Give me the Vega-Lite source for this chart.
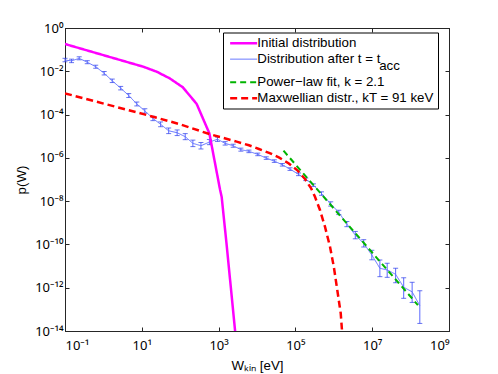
{
  "$schema": "https://vega.github.io/schema/vega-lite/v6.json",
  "autosize": {"type": "none"},
  "padding": {"left": 65, "top": 28, "right": 49, "bottom": 43},
  "width": 384,
  "height": 303,
  "config": {
    "font": "Liberation Sans",
    "view": {"stroke": "#262626", "strokeWidth": 1},
    "axis": {"grid": false, "domainColor": "#262626", "tickColor": "#262626", "labelColor": "#000000", "titleColor": "#000000", "labelFontSize": 13, "titleFontSize": 13.3, "titleFontWeight": "normal", "tickSize": -4, "labelFont": "Noto Sans", "titleFont": "Liberation Sans"},
    "style": {"guide-label": {"lineHeight": 7}}
  },
  "datasets": {
    "curves": [
      {"s": "Distribution after t = tacc", "W": 0.1, "p": 3.31e-2},
      {"s": "Distribution after t = tacc", "W": 0.148, "p": 3.02e-2},
      {"s": "Distribution after t = tacc", "W": 0.234, "p": 3.98e-2},
      {"s": "Distribution after t = tacc", "W": 0.380, "p": 2.63e-2},
      {"s": "Distribution after t = tacc", "W": 0.631, "p": 1.62e-2},
      {"s": "Distribution after t = tacc", "W": 1.047, "p": 8.13e-3},
      {"s": "Distribution after t = tacc", "W": 1.70, "p": 3.63e-3},
      {"s": "Distribution after t = tacc", "W": 2.82, "p": 1.66e-3},
      {"s": "Distribution after t = tacc", "W": 4.57, "p": 7.59e-4},
      {"s": "Distribution after t = tacc", "W": 7.41, "p": 3.09e-4},
      {"s": "Distribution after t = tacc", "W": 12.0, "p": 1.48e-4},
      {"s": "Distribution after t = tacc", "W": 19.5, "p": 6.61e-5},
      {"s": "Distribution after t = tacc", "W": 30.9, "p": 3.55e-5},
      {"s": "Distribution after t = tacc", "W": 50.1, "p": 1.78e-5},
      {"s": "Distribution after t = tacc", "W": 83.2, "p": 1.45e-5},
      {"s": "Distribution after t = tacc", "W": 135, "p": 9.55e-6},
      {"s": "Distribution after t = tacc", "W": 214, "p": 4.68e-6},
      {"s": "Distribution after t = tacc", "W": 347, "p": 3.63e-6},
      {"s": "Distribution after t = tacc", "W": 575, "p": 5.37e-6},
      {"s": "Distribution after t = tacc", "W": 933, "p": 7.24e-6},
      {"s": "Distribution after t = tacc", "W": 1479, "p": 4.68e-6},
      {"s": "Distribution after t = tacc", "W": 2399, "p": 3.63e-6},
      {"s": "Distribution after t = tacc", "W": 3802, "p": 2.40e-6},
      {"s": "Distribution after t = tacc", "W": 6166, "p": 2.00e-6},
      {"s": "Distribution after t = tacc", "W": 10471, "p": 1.45e-6},
      {"s": "Distribution after t = tacc", "W": 17378, "p": 9.77e-7},
      {"s": "Distribution after t = tacc", "W": 28184, "p": 7.08e-7},
      {"s": "Distribution after t = tacc", "W": 45709, "p": 4.79e-7},
      {"s": "Distribution after t = tacc", "W": 72444, "p": 3.02e-7},
      {"s": "Distribution after t = tacc", "W": 120226, "p": 1.74e-7},
      {"s": "Distribution after t = tacc", "W": 186209, "p": 1.02e-7},
      {"s": "Distribution after t = tacc", "W": 295121, "p": 5.50e-8},
      {"s": "Distribution after t = tacc", "W": 478630, "p": 2.24e-8},
      {"s": "Distribution after t = tacc", "W": 831764, "p": 7.41e-9},
      {"s": "Distribution after t = tacc", "W": 1.349e6, "p": 3.02e-9},
      {"s": "Distribution after t = tacc", "W": 2.188e6, "p": 8.71e-10},
      {"s": "Distribution after t = tacc", "W": 3.631e6, "p": 2.69e-10},
      {"s": "Distribution after t = tacc", "W": 6.026e6, "p": 1.12e-10},
      {"s": "Distribution after t = tacc", "W": 9.772e6, "p": 3.24e-11},
      {"s": "Distribution after t = tacc", "W": 1.585e7, "p": 7.94e-12},
      {"s": "Distribution after t = tacc", "W": 2.455e7, "p": 6.61e-12},
      {"s": "Distribution after t = tacc", "W": 4.074e7, "p": 4.17e-12},
      {"s": "Distribution after t = tacc", "W": 6.607e7, "p": 1.05e-12},
      {"s": "Distribution after t = tacc", "W": 1.096e8, "p": 6.46e-13},
      {"s": "Distribution after t = tacc", "W": 1.738e8, "p": 1.48e-13},
      {"s": "Initial distribution", "W": 0.1, "p": 0.182},
      {"s": "Initial distribution", "W": 11.0, "p": 1.62e-2},
      {"s": "Initial distribution", "W": 24.5, "p": 9.55e-3},
      {"s": "Initial distribution", "W": 53.7, "p": 4.68e-3},
      {"s": "Initial distribution", "W": 117, "p": 1.82e-3},
      {"s": "Initial distribution", "W": 269, "p": 3.09e-4},
      {"s": "Initial distribution", "W": 575, "p": 1.35e-5},
      {"s": "Initial distribution", "W": 1096, "p": 3.24e-8},
      {"s": "Initial distribution", "W": 1202, "p": 1.58e-8},
      {"s": "Initial distribution", "W": 1622, "p": 9.33e-11},
      {"s": "Initial distribution", "W": 2692, "p": 1e-14},
      {"s": "Initial distribution", "W": 3162, "p": 6.3e-16},
      {"s": "Maxwellian distr., kT = 91 keV", "W": 0.1, "p": 9.55e-4},
      {"s": "Maxwellian distr., kT = 91 keV", "W": 11.7, "p": 1.02e-4},
      {"s": "Maxwellian distr., kT = 91 keV", "W": 100, "p": 3.55e-5},
      {"s": "Maxwellian distr., kT = 91 keV", "W": 575, "p": 1.26e-5},
      {"s": "Maxwellian distr., kT = 91 keV", "W": 2951, "p": 5.62e-6},
      {"s": "Maxwellian distr., kT = 91 keV", "W": 6166, "p": 3.80e-6},
      {"s": "Maxwellian distr., kT = 91 keV", "W": 11220, "p": 2.57e-6},
      {"s": "Maxwellian distr., kT = 91 keV", "W": 21380, "p": 1.66e-6},
      {"s": "Maxwellian distr., kT = 91 keV", "W": 38019, "p": 1.02e-6},
      {"s": "Maxwellian distr., kT = 91 keV", "W": 66069, "p": 5.62e-7},
      {"s": "Maxwellian distr., kT = 91 keV", "W": 114815, "p": 2.57e-7},
      {"s": "Maxwellian distr., kT = 91 keV", "W": 177828, "p": 1.05e-7},
      {"s": "Maxwellian distr., kT = 91 keV", "W": 257040, "p": 3.89e-8},
      {"s": "Maxwellian distr., kT = 91 keV", "W": 323594, "p": 1.58e-8},
      {"s": "Maxwellian distr., kT = 91 keV", "W": 436516, "p": 3.89e-9},
      {"s": "Maxwellian distr., kT = 91 keV", "W": 588844, "p": 6.61e-10},
      {"s": "Maxwellian distr., kT = 91 keV", "W": 794328, "p": 7.94e-11},
      {"s": "Maxwellian distr., kT = 91 keV", "W": 1000000, "p": 9.33e-12},
      {"s": "Maxwellian distr., kT = 91 keV", "W": 1.230e6, "p": 7.94e-13},
      {"s": "Maxwellian distr., kT = 91 keV", "W": 1.514e6, "p": 6.61e-14},
      {"s": "Maxwellian distr., kT = 91 keV", "W": 1.738e6, "p": 2.51e-15},
      {"s": "Power\u2212law fit, k = 2.1", "W": 48978, "p": 2.14e-6},
      {"s": "Power\u2212law fit, k = 2.1", "W": 1.549e8, "p": 1.58e-13}
    ],
    "err": [
      {"W": 0.1, "lo": 2.75e-2, "hi": 3.98e-2},
      {"W": 0.148, "lo": 2.51e-2, "hi": 3.63e-2},
      {"W": 0.234, "lo": 3.39e-2, "hi": 4.68e-2},
      {"W": 0.380, "lo": 2.24e-2, "hi": 3.09e-2},
      {"W": 0.631, "lo": 1.38e-2, "hi": 1.91e-2},
      {"W": 1.047, "lo": 6.76e-3, "hi": 9.77e-3},
      {"W": 1.70, "lo": 3.02e-3, "hi": 4.37e-3},
      {"W": 2.82, "lo": 1.38e-3, "hi": 2.00e-3},
      {"W": 4.57, "lo": 6.17e-4, "hi": 9.33e-4},
      {"W": 7.41, "lo": 2.51e-4, "hi": 3.80e-4},
      {"W": 12.0, "lo": 1.17e-4, "hi": 1.86e-4},
      {"W": 19.5, "lo": 5.25e-5, "hi": 8.32e-5},
      {"W": 30.9, "lo": 2.75e-5, "hi": 4.57e-5},
      {"W": 50.1, "lo": 1.32e-5, "hi": 2.40e-5},
      {"W": 83.2, "lo": 1.07e-5, "hi": 1.95e-5},
      {"W": 135, "lo": 6.92e-6, "hi": 1.32e-5},
      {"W": 214, "lo": 3.31e-6, "hi": 6.61e-6},
      {"W": 347, "lo": 2.57e-6, "hi": 5.13e-6},
      {"W": 575, "lo": 4.07e-6, "hi": 7.08e-6},
      {"W": 933, "lo": 5.75e-6, "hi": 9.12e-6},
      {"W": 1479, "lo": 3.89e-6, "hi": 5.62e-6},
      {"W": 2399, "lo": 3.09e-6, "hi": 4.27e-6},
      {"W": 3802, "lo": 2.04e-6, "hi": 2.82e-6},
      {"W": 6166, "lo": 1.74e-6, "hi": 2.29e-6},
      {"W": 10471, "lo": 1.26e-6, "hi": 1.66e-6},
      {"W": 17378, "lo": 8.51e-7, "hi": 1.12e-6},
      {"W": 28184, "lo": 6.17e-7, "hi": 8.13e-7},
      {"W": 45709, "lo": 4.17e-7, "hi": 5.50e-7},
      {"W": 72444, "lo": 2.63e-7, "hi": 3.47e-7},
      {"W": 120226, "lo": 1.51e-7, "hi": 2.00e-7},
      {"W": 186209, "lo": 8.91e-8, "hi": 1.17e-7},
      {"W": 295121, "lo": 4.79e-8, "hi": 6.31e-8},
      {"W": 478630, "lo": 1.86e-8, "hi": 2.69e-8},
      {"W": 831764, "lo": 5.89e-9, "hi": 9.33e-9},
      {"W": 1.349e6, "lo": 2.40e-9, "hi": 3.80e-9},
      {"W": 2.188e6, "lo": 6.61e-10, "hi": 1.15e-9},
      {"W": 3.631e6, "lo": 1.82e-10, "hi": 3.98e-10},
      {"W": 6.026e6, "lo": 7.59e-11, "hi": 1.66e-10},
      {"W": 9.772e6, "lo": 1.95e-11, "hi": 5.37e-11},
      {"W": 1.585e7, "lo": 3.24e-12, "hi": 1.91e-11},
      {"W": 2.455e7, "lo": 3.02e-12, "hi": 1.35e-11},
      {"W": 4.074e7, "lo": 1.70e-12, "hi": 7.94e-12},
      {"W": 6.607e7, "lo": 3.24e-13, "hi": 2.88e-12},
      {"W": 1.096e8, "lo": 2.09e-13, "hi": 1.78e-12},
      {"W": 1.738e8, "lo": 2.24e-14, "hi": 7.24e-13}
    ]
  },
  "resolve": {"axis": {"x": "independent", "y": "independent"}},
  "layer": [
    {
      "data": {"name": "err"},
      "mark": {"type": "rule", "color": "#5a68ff", "strokeWidth": 1},
      "encoding": {
        "x": {"field": "W", "type": "quantitative", "scale": {"type": "log", "domain": [0.1, 1e9]},
              "axis": {"orient": "top", "labels": false, "title": null, "values": [0.1, 10, 1000, 1e5, 1e7, 1e9]}},
        "y": {"field": "lo", "type": "quantitative", "scale": {"type": "log", "domain": [1e-14, 1]},
              "axis": {"orient": "right", "labels": false, "title": null, "values": [1e-14, 1e-12, 1e-10, 1e-8, 1e-6, 1e-4, 1e-2, 1]}},
        "y2": {"field": "hi"}
      }
    },
    {
      "data": {"name": "err"},
      "mark": {"type": "tick", "orient": "horizontal", "color": "#2a3ae8", "size": 5, "thickness": 1},
      "encoding": {
        "x": {"field": "W", "type": "quantitative", "axis": null},
        "y": {"field": "lo", "type": "quantitative", "axis": null}
      }
    },
    {
      "data": {"name": "err"},
      "mark": {"type": "tick", "orient": "horizontal", "color": "#2a3ae8", "size": 5, "thickness": 1},
      "encoding": {
        "x": {"field": "W", "type": "quantitative", "axis": null},
        "y": {"field": "hi", "type": "quantitative", "axis": null}
      }
    },
    {
      "data": {"name": "curves"},
      "mark": {"type": "line", "clip": true},
      "encoding": {
        "x": {"field": "W", "type": "quantitative",
              "axis": {"orient": "bottom", "title": "Wₖᵢₙ [eV]", "titlePadding": 6, "labelPadding": 12,
                       "values": [0.1, 10, 1000, 1e5, 1e7, 1e9],
                       "labelExpr": "'10' + (round(log(datum.value)/LN10) < 0 ? '⁻' : '') + (abs(round(log(datum.value)/LN10)) >= 10 ? '¹' : '') + substring('⁰¹²³⁴⁵⁶⁷⁸⁹', abs(round(log(datum.value)/LN10)) % 10, abs(round(log(datum.value)/LN10)) % 10 + 1)"}},
        "y": {"field": "p", "type": "quantitative",
              "axis": {"orient": "left", "title": "p(W)", "titlePadding": 6, "labelPadding": 6,
                       "values": [1e-14, 1e-12, 1e-10, 1e-8, 1e-6, 1e-4, 1e-2, 1],
                       "labelExpr": "'10' + (round(log(datum.value)/LN10) < 0 ? '⁻' : '') + (abs(round(log(datum.value)/LN10)) >= 10 ? '¹' : '') + substring('⁰¹²³⁴⁵⁶⁷⁸⁹', abs(round(log(datum.value)/LN10)) % 10, abs(round(log(datum.value)/LN10)) % 10 + 1)"}},
        "order": {"field": "s"},
        "color": {"field": "s", "type": "nominal",
                  "scale": {"domain": ["Initial distribution", "Distribution after t = tacc", "Power\u2212law fit, k = 2.1", "Maxwellian distr., kT = 91 keV"],
                            "range": ["#ff00ff", "#5f6fff", "#00b400", "#ff0000"]},
                  "legend": {"title": null, "orient": "none", "legendX": 158, "legendY": 4.5,
                             "strokeColor": "#000000", "fillColor": "#ffffff", "padding": 4,
                             "symbolType": "M-3,0H3", "symbolSize": 81, "symbolOffset": 10, "labelOffset": 7,
                             "labelFontSize": 13.3, "labelLimit": 400, "rowPadding": 2, "labelColor": "#000000",
                             "labelExpr": "datum.label == 'Distribution after t = tacc' ? ['Distribution after t = t', '\u200b\u00a0\u00a0\u00a0\u00a0\u00a0\u00a0\u00a0\u00a0\u00a0\u00a0\u00a0\u00a0\u00a0\u00a0\u00a0\u00a0\u00a0\u00a0\u00a0\u00a0\u00a0\u00a0\u00a0\u00a0\u00a0\u00a0\u00a0\u00a0\u00a0\u00a0\u00a0\u00a0\u00a0acc'] : datum.label"}},
        "strokeDash": {"field": "s", "type": "nominal",
                       "scale": {"domain": ["Initial distribution", "Distribution after t = tacc", "Power\u2212law fit, k = 2.1", "Maxwellian distr., kT = 91 keV"],
                                 "range": [[1, 0], [1, 0], [6, 4], [7, 4]]}},
        "strokeWidth": {"field": "s", "type": "nominal",
                        "scale": {"type": "ordinal", "domain": ["Initial distribution", "Distribution after t = tacc", "Power\u2212law fit, k = 2.1", "Maxwellian distr., kT = 91 keV"],
                                  "range": [2.5, 1, 2, 2.5]}}
      }
    }
  ]
}
